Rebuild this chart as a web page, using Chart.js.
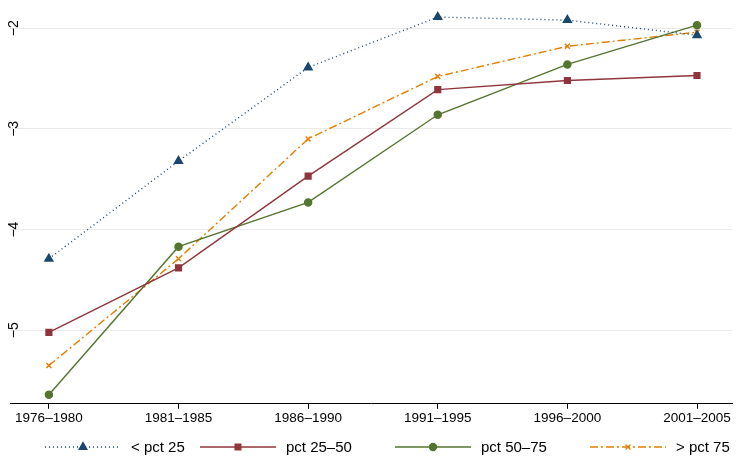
<!DOCTYPE html>
<html><head><meta charset="utf-8">
<script src="https://cdn.jsdelivr.net/npm/chart.js@4"></script>
<style>body{margin:0;background:#fff}#wrap{width:738px;height:457px}</style>
</head><body><div id="wrap"><canvas id="c"></canvas></div>
<script>
const periods = ['1976–1980', '1981–1985', '1986–1990', '1991–1995', '1996–2000', '2001–2005'];
const below25 = [-4.29, -3.32, -2.39, -1.89, -1.92, -2.07];
const pct25to50 = [-5.02, -4.38, -3.47, -2.61, -2.52, -2.47];
const pct50to75 = [-5.64, -4.17, -3.73, -2.86, -2.36, -1.97];
const above75 = [-5.35, -4.29, -3.10, -2.48, -2.18, -2.04];
const yTicks = [-5, -4, -3, -2];

const series = [
    { label: '< pct 25', data: below25, color: '#1a476f', dash: [1, 3], point: 'triangle', r: 4.5 },
    { label: 'pct 25–50', data: pct25to50, color: '#90353b', dash: [], point: 'rect', r: 4 },
    { label: 'pct 50–75', data: pct50to75, color: '#55752f', dash: [], point: 'circle', r: 3.5 },
    { label: '> pct 75', data: above75, color: '#e37e00', dash: [8, 3, 2, 3], point: 'crossRot', r: 3.5 }
];

const font = 'Liberation Sans, Arial, sans-serif';

// rotated y labels + bottom legend
const extras = {
    id: 'extras',
    afterDraw(chart) {
        const ctx = chart.ctx;
        const y = chart.scales.y;
        ctx.save();
        ctx.fillStyle = '#000';
        ctx.font = '14px ' + font;
        ctx.textAlign = 'center';
        ctx.textBaseline = 'middle';
        yTicks.forEach(v => {
            ctx.save();
            ctx.translate(14, y.getPixelForValue(v));
            ctx.rotate(-Math.PI / 2);
            ctx.fillText(String(v).replace('-', '−'), 0, 0);
            ctx.restore();
        });
        const starts = [45, 200, 395, 590];
        const ly = 447;
        series.forEach((s, i) => {
            const x0 = starts[i];
            ctx.strokeStyle = s.color;
            ctx.lineWidth = 1.3;
            ctx.setLineDash(s.dash);
            ctx.beginPath(); ctx.moveTo(x0, ly); ctx.lineTo(x0 + 76, ly); ctx.stroke();
            ctx.setLineDash([]);
            ctx.fillStyle = s.color;
            Chart.helpers.drawPoint(ctx, { pointStyle: s.point, radius: s.r, borderWidth: 1.5 }, x0 + 38, ly);
            ctx.fill();
            ctx.fillStyle = '#000';
            ctx.font = '15px ' + font;
            ctx.textAlign = 'left';
            ctx.fillText(s.label, x0 + 86, ly + 1);
        });
        ctx.restore();
    }
};

new Chart(document.getElementById('c'), {
    type: 'line',
    data: {
        datasets: series.map(s => ({
            label: s.label,
            data: s.data.map((v, i) => ({ x: i, y: v })),
            borderColor: s.color,
            backgroundColor: s.color,
            borderDash: s.dash,
            borderWidth: 1.4,
            pointStyle: s.point,
            pointRadius: s.r,
            pointBorderWidth: 1.5,
            tension: 0
        }))
    },
    options: {
        animation: false,
        responsive: true,
        maintainAspectRatio: false,
        layout: { padding: { left: 10, right: 0, top: 5, bottom: 30 } },
        plugins: { legend: { display: false }, tooltip: { enabled: false } },
        scales: {
            x: {
                type: 'linear', min: -0.3, max: 5.27,
                afterBuildTicks: ax => { ax.ticks = periods.map((p, i) => ({ value: i })); },
                ticks: { callback: v => periods[v], color: '#000', font: { family: font, size: 13.5 }, maxRotation: 0, padding: 1 },
                grid: { display: true, drawOnChartArea: false, drawTicks: true, tickLength: 5, tickColor: '#000' },
                border: { color: '#000' }
            },
            y: {
                min: -5.73, max: -1.78,
                afterBuildTicks: ax => { ax.ticks = yTicks.map(v => ({ value: v })); },
                afterFit: ax => { ax.width = 0; },
                ticks: { display: false },
                grid: { color: '#eaeaea', drawTicks: false },
                border: { display: false }
            }
        }
    },
    plugins: [extras]
});
</script></body></html>
